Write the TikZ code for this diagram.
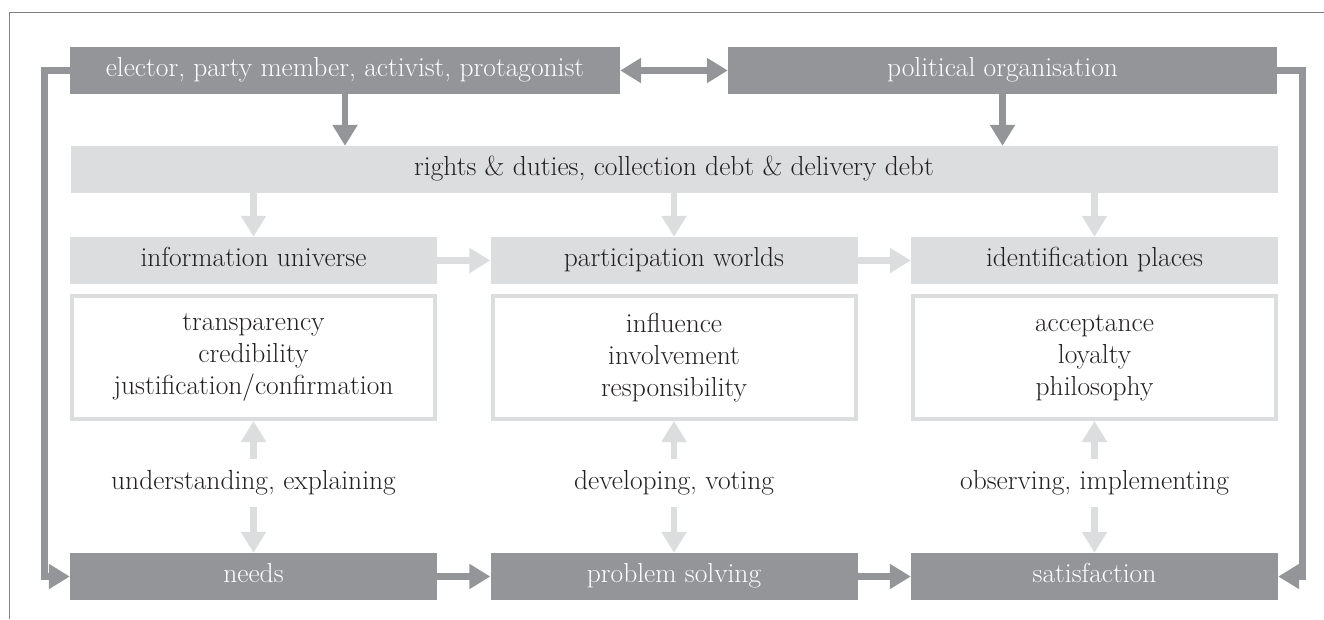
\documentclass[tikz,border=0pt]{standalone}
\usepackage{tikz}
\usetikzlibrary{positioning,arrows.meta}
\definecolor{darkgrey}{HTML}{939598}
\definecolor{lightgrey}{HTML}{DCDDDE}
\definecolor{ink}{HTML}{231F20}

\begin{document}
\begin{tikzpicture}[node distance=420.5pt,on grid,
  font=\fontsize{27.5}{32}\selectfont,
  >={Triangle[length=21pt,width=24pt]},
  dark/.style={fill=darkgrey,text=white,minimum height=47pt,inner sep=0pt,
    text height=18pt,text depth=6pt},
  light/.style={fill=lightgrey,text=ink,minimum height=47pt,inner sep=0pt,
    text height=18pt,text depth=6pt},
  list/.style={draw=lightgrey,line width=4pt,text=ink,align=center,
    minimum width=363pt,minimum height=123pt,inner sep=0pt},
  verb/.style={text=ink,minimum height=47pt,inner sep=0pt,
    text height=18pt,text depth=6pt},
  dk/.style={color=darkgrey,line width=6.5pt},
  lt/.style={color=lightgrey,line width=6.5pt}]
  \useasboundingbox (0,0) rectangle (1324pt,-619pt);
  \draw[gray,line width=1pt] (9pt,-619pt) -- (9pt,-12.5pt) -- (1324pt,-12.5pt);

  \node[light,minimum width=367pt] (3) at (253.5pt,-260.5pt) {information universe};
  \node[light,minimum width=367pt] (4) [right=of 3] {participation worlds};
  \node[light,minimum width=367pt] (5) [right=of 4] {identification places};
  \node[light,minimum width=1207pt] (2) [above=91pt of 4] {rights \& duties, collection debt \& delivery debt};
  \node[dark,minimum width=550pt] (0) [above left=99pt and 329pt of 2] {elector, party member, activist, protagonist};
  \node[dark,minimum width=549pt] (1) [above right=99pt and 328.5pt of 2] {political organisation};

  \node[list] (6) [below=97pt of 3] {transparency\\credibility\\justification/confirmation};
  \node[list] (7) [below=97pt of 4] {influence\\involvement\\responsibility};
  \node[list] (8) [below=97pt of 5] {acceptance\\loyalty\\philosophy};

  \node[verb] (9)  [below=125.5pt of 6] {understanding, explaining};
  \node[verb] (10) [below=125.5pt of 7] {developing, voting};
  \node[verb] (11) [below=125.5pt of 8] {observing, implementing};

  \node[dark,minimum width=367pt] (12) [below=93.5pt of 9]  {needs};
  \node[dark,minimum width=367pt] (13) [below=93.5pt of 10] {problem solving};
  \node[dark,minimum width=367pt] (14) [below=93.5pt of 11] {satisfaction};

  \path[->,dk]
  (0) edge (0 |- 2.north)
      edge[<->] (1)
  (1) edge (1 |- 2.north)
  (12) edge (13)
  (13) edge (14);
  \draw[->,dk] (0.west) -- ++(-25.5pt,0) |- (12.west);
  \draw[->,dk] (1.east) -- ++(25.5pt,0) |- (14.east);

  \path[->,lt]
  (2.south -| 3) edge (3)
  (2.south -| 4) edge (4)
  (2.south -| 5) edge (5)
  (3) edge (4)
  (4) edge (5)
  (9) edge (6)
      edge (12)
  (10) edge (7)
       edge (13)
  (11) edge (8)
       edge (14);
\end{tikzpicture}
\end{document}
